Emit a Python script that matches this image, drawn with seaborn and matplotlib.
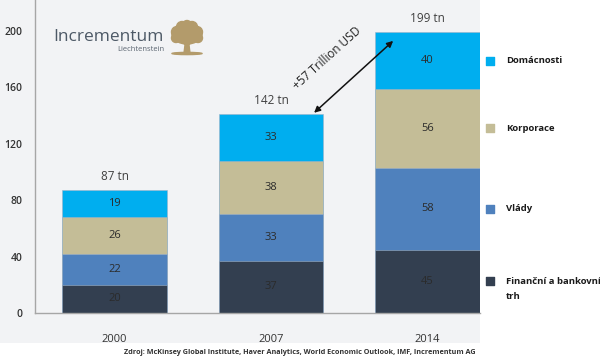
import numpy as np
import pandas as pd
import seaborn as sns
import matplotlib.pyplot as plt
from matplotlib.patches import Rectangle, Ellipse, Circle, Polygon

# data (bottom to top)
years = ["2000", "2007", "2014"]
sectors = ["Finanční a bankovní\ntrh", "Vlády", "Korporace", "Domácnosti"]
financni = [20, 37, 45]
vlady = [22, 33, 58]
korporace = [26, 38, 56]
domacnosti = [19, 33, 40]
totals = ["87 tn", "142 tn", "199 tn"]
colors = ["#333f50", "#4f81bd", "#c4bd97", "#00aeef"]
yticks = [0, 40, 80, 120, 160, 200]

sns.set_style("white")
plt.rcParams["font.family"] = ["Open Sans", "DejaVu Sans"]

values = np.array([financni, vlady, korporace, domacnosti])
cum = values.cumsum(axis=0)

fig = plt.figure(figsize=(6, 3.59), dpi=100)
fig.patch.set_facecolor("white")
bg = "#f2f3f5"
fig.patches.append(Rectangle((0, 16 / 359), 0.8, 1 - 16 / 359, transform=fig.transFigure,
                             facecolor=bg, edgecolor="none", zorder=-5))

ax = fig.add_axes([35 / 600, 46 / 359, 445 / 600, 313 / 359])
ax.set_facecolor(bg)

# stacked bars by drawing cumulative heights from top layer down
for i in range(len(sectors) - 1, -1, -1):
    df = pd.DataFrame({"year": years, "v": cum[i]})
    sns.barplot(data=df, x="year", y="v", color=colors[i], saturation=1,
                width=0.67, ax=ax, zorder=2, linewidth=0.4, edgecolor="#9fb3c8")

# segment labels
for j in range(len(years)):
    for i in range(len(sectors)):
        mid = cum[i, j] - values[i, j] / 2
        ax.text(j, mid, str(values[i, j]), ha="center", va="center",
                fontsize=8, color="#2b2b2b", zorder=3)
    ax.text(j, cum[-1, j] + 5, totals[j], ha="center", va="bottom",
            fontsize=8.5, color="#404040", zorder=3)

ax.set_xlim(-0.508, 2.335)
ax.set_ylim(0, 222)
ax.set_yticks(yticks)
ax.set_xlabel("")
ax.set_ylabel("")
ax.tick_params(axis="y", length=0, pad=9, labelsize=7.5, labelcolor="#333333")
ax.tick_params(axis="x", length=0, pad=15, labelsize=8, labelcolor="#333333")
for lab in ax.get_yticklabels():
    lab.set_fontweight("semibold")
for s in ["top", "right"]:
    ax.spines[s].set_visible(False)
for s in ["left", "bottom"]:
    ax.spines[s].set_color("#a6a6a6")
    ax.spines[s].set_linewidth(1)

# arrow between 2007 and 2014
ax.annotate("", xy=(1.78, 193), xytext=(1.275, 142),
            arrowprops=dict(arrowstyle="<|-|>", color="#111111", lw=1.1,
                            mutation_scale=9, shrinkA=0, shrinkB=0),
            annotation_clip=False, zorder=4)
ax.text(1.36, 181, "+57 Trillion USD", rotation=42, ha="center", va="center",
        fontsize=8.5, color="#222222", rotation_mode="anchor", zorder=4)

# legend aligned to 2014 segments
for i in range(len(sectors)):
    mid = cum[i, 2] - values[i, 2] / 2
    ax.scatter([2.40], [mid], marker="s", s=36, color=colors[i], clip_on=False, zorder=4)
    lines = sectors[i].split("\n")
    for k, line in enumerate(lines):
        ax.annotate(line, xy=(2.50, mid), xytext=(0, -11 * k), textcoords="offset points",
                    ha="left", va="center", fontsize=6.8, fontweight="bold",
                    color="#1a1a1a", annotation_clip=False)

# logo and source in pixel coords
ov = fig.add_axes([0, 0, 1, 1], facecolor="none")
ov.set_xlim(0, 600)
ov.set_ylim(359, 0)
ov.axis("off")
ov.text(164, 41, "Incrementum", ha="right", va="baseline", fontsize=12.5,
        color="#4d5966")
ov.text(164, 51, "Liechtenstein", ha="right", va="baseline", fontsize=5.5,
        color="#5a6470")
tree = "#b39b6b"
ov.add_patch(Ellipse((187, 34), 30, 20, color=tree))
for cx, cy, r in [(177, 32, 5.5), (197, 32, 5.5), (182, 27, 5.5), (192, 27, 5.5), (187, 25, 4.5),
                  (176, 38, 4.5), (198, 38, 4.5), (187, 41, 4)]:
    ov.add_patch(Circle((cx, cy), r, color=tree))
ov.add_patch(Polygon([(185.5, 41), (188.5, 41), (190, 53), (184, 53)], color=tree))
ov.add_patch(Ellipse((187, 53.5), 30, 2.2, color=tree))

ov.text(300, 352, "Zdroj: McKinsey Global Institute, Haver Analytics, World Economic Outlook, IMF, Incrementum AG",
        ha="center", va="center", fontsize=5.2, fontweight="bold", color="#333333")

fig.savefig("out.png", dpi=100)
